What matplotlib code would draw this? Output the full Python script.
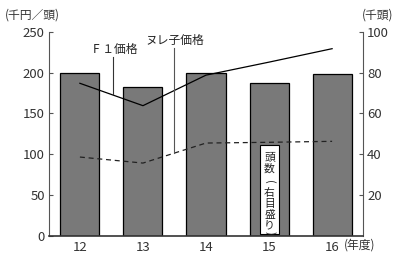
import matplotlib
matplotlib.use('Agg')
import matplotlib.pyplot as plt
from matplotlib.patches import Rectangle

plt.rcParams['font.family'] = ['Noto Sans CJK JP', 'DejaVu Sans']

# データ（年度、頭数は千頭・右目盛り、価格は千円／頭）
years = ['12', '13', '14', '15', '16']
heads = [80.0, 72.8, 80.0, 74.9, 79.4]
f1_price = [187, 159.5, 197, 213, 229.5]
nure_price = [96.4, 89, 113.6, 114.5, 115.7]

fig = plt.figure(figsize=(4, 2.56), dpi=100)
ax = fig.add_axes([0.1225, 0.08, 0.785, 0.795])
ax2 = ax.twinx()

x = range(len(years))
ax2.bar(x, heads, width=0.62, color='#797979', edgecolor='black', linewidth=0.9)
ax2.set_ylim(0, 100)
ax2.set_yticks([20, 40, 60, 80, 100])

# 線は棒より手前に
ax.set_zorder(ax2.get_zorder() + 1)
ax.patch.set_visible(False)

ax.plot(x, f1_price, color='black', lw=0.9)
ax.plot(x, nure_price, color='#222222', lw=0.9, ls=(0, (4, 3)))
ax.set_ylim(0, 250)
ax.set_yticks([0, 50, 100, 150, 200, 250])
ax.set_xlim(-0.49, 4.49)
ax.set_xticks(list(x))
ax.set_xticklabels(years)

for a in (ax, ax2):
    for s in a.spines.values():
        s.set_visible(False)
    a.tick_params(axis='y', direction='in', length=3, width=0.8, color='#555555',
                  labelsize=9.5, labelcolor='#333333', pad=3)
ax.spines['left'].set_visible(True)
ax.spines['left'].set_color('#555555')
ax.spines['bottom'].set_visible(True)
ax.spines['bottom'].set_color('#333333')
ax.spines['bottom'].set_linewidth(1.2)
ax2.spines['right'].set_visible(True)
ax2.spines['right'].set_color('#555555')
ax.tick_params(axis='x', length=0, labelsize=9.5, labelcolor='#333333', pad=4)

# 引き出し線とラベル
ax.plot([0.52, 0.52], [174, 219], color='#333333', lw=0.8)
ax.text(0.556, 221, 'F １価格', ha='center', va='bottom', fontsize=8.5, color='#222222')
ax.plot([1.49, 1.49], [101, 230], color='#555555', lw=0.8)
ax.text(1.51, 232, 'ヌレ子価格', ha='center', va='bottom', fontsize=8.5, color='#222222')

# 縦書きラベル（頭数（右目盛り））
ax.add_patch(Rectangle((2.857, 1.8), 0.302, 109.4, fc='white', ec='black', lw=0.8, zorder=3))
chars = ['頭', '数', '(', '右', '目', '盛', 'り', ')']
offs_px = [12, 24, 37, 48, 59, 70, 80, 88]
for ch, off in zip(chars, offs_px):
    rot = -90 if ch in '()' else 0
    ax.annotate(ch, (3.008, 111.2), xytext=(0, -off * 0.72), textcoords='offset points',
                ha='center', va='center', rotation=rot,
                fontsize=7.8, color='#222222', zorder=4)

fig.text(0.012, 0.94, '(千円／頭)', fontsize=8.5, color='#333333', va='center')
fig.text(0.905, 0.94, '(千頭)', fontsize=8.5, color='#333333', va='center')
fig.text(0.86, 0.043, '(年度)', fontsize=8.5, color='#333333', va='center')

fig.savefig('out.png', dpi=100)
